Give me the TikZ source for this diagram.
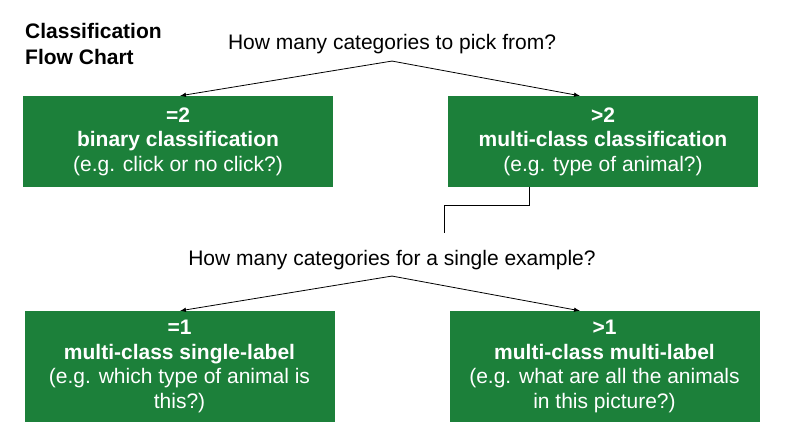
\documentclass[tikz,border=0pt]{standalone}
\usepackage{fontspec}
\setmainfont{Liberation Sans}
\usetikzlibrary{arrows.meta}
\definecolor{boxfill}{RGB}{28,128,58}

\begin{document}
\begin{tikzpicture}[
    x=1pt, y=-1pt,
    box/.style={fill=boxfill, text=white, align=center, inner sep=0pt, minimum width=310pt, font=\fontsize{21}{24.5}\selectfont},
    question/.style={anchor=base, inner xsep=2pt, inner ysep=6.5pt, font=\fontsize{21}{25}\selectfont},
    charttitle/.style={anchor=north west, inner sep=0pt, align=left, font=\bfseries\fontsize{21}{26}\selectfont},
    link/.style={-{Latex[length=6pt,width=4.5pt]}, line width=0.8pt}
]
\useasboundingbox (0,0) rectangle (787,436);

% ---------- Title ----------
\node[charttitle] (title) at (25,23) {Classification\\Flow Chart};

% ---------- First question ----------
\node[question] (pickfrom) at (392,50) {How many categories to pick from?};

\node[box, minimum height=91pt] (binary) at (178,141.5) {\textbf{=2}\\ \textbf{binary classification}\\ (e.g. click or no click?)};
\node[box, minimum height=91pt] (multiclass) at (603,141.5) {\textbf{>2}\\ \textbf{multi-class classification}\\ (e.g. type of animal?)};

\draw[link] (pickfrom.south) -- ([xshift=2pt]binary.north);
\draw[link] (pickfrom.south) -- ([xshift=-23pt]multiclass.north);

% ---------- Second question ----------
\node[question] (perexample) at (392,265) {How many categories for a single example?};
\coordinate (elbowend) at (444,233);
\draw[line width=0.8pt] ([xshift=-74pt]multiclass.south) -- ++(0,18) -| (elbowend);

\node[box, minimum height=111pt] (singlelabel) at (179.5,366.5) {\textbf{=1}\\ \textbf{multi-class single-label}\\ (e.g. which type of animal is\\ this?)};
\node[box, minimum height=111pt] (multilabel) at (604.5,366.5) {\textbf{>1}\\ \textbf{multi-class multi-label}\\ (e.g. what are all the animals\\ in this picture?)};

\draw[link] (perexample.south) -- ([xshift=0.5pt]singlelabel.north);
\draw[link] (perexample.south) -- ([xshift=-24.5pt]multilabel.north);

\end{tikzpicture}
\end{document}
